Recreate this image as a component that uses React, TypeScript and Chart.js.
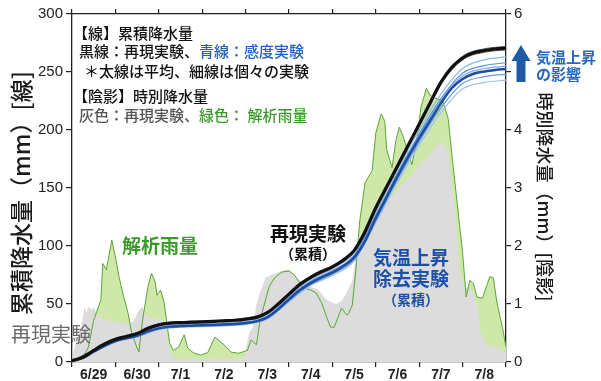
import React, { useEffect, useRef } from 'react';
import { Chart, registerables } from 'chart.js';

Chart.register(...registerables);

// ---------- categories / ticks ----------
const dayLabels = ['6/29', '6/30', '7/1', '7/2', '7/3', '7/4', '7/5', '7/6', '7/7', '7/8'];
const dayTickHours = [0, 12, 24, 36, 48, 60, 72, 84, 96, 108, 120, 132, 144, 156, 168, 180, 192, 204, 216, 228, 240];
const rightTickLabels = ['0', '1', '2', '3', '4', '', '6'];

// ---------- cumulative precipitation (mm), 6-hourly ----------
const cumHours = [0, 6, 12, 18, 24, 30, 36, 42, 48, 54, 60, 66, 72, 78, 84, 90, 96, 102, 108, 114, 120, 126, 132, 138, 144, 150, 156, 162, 168, 174, 180, 186, 192, 198, 204, 210, 216, 222, 228, 234, 240];
const blackMean = [1, 4, 10, 15.5, 19.5, 22, 24.5, 29, 32, 33.5, 34, 34.3, 34.6, 35, 35.5, 36, 37, 38.5, 42.5, 50, 58.5, 67, 73, 78, 82, 88, 96, 112, 133, 151, 169, 187, 205, 223, 241, 254, 262, 266.5, 268.5, 269.8, 270.5];
const blueMean = [1, 3.5, 9, 14, 18, 20.5, 22.5, 26.5, 29, 30.5, 31, 31.3, 31.6, 32, 32.3, 32.8, 33.6, 35, 38.5, 45.5, 54, 62, 68, 73, 77, 82.5, 90, 104, 124, 142, 160, 177, 193, 208, 223, 236, 244, 248.5, 250.5, 251.8, 252.5];

// ---------- individual members, 12-hourly ----------
const memberHours = [0, 12, 24, 36, 48, 60, 72, 84, 96, 108, 120, 132, 144, 156, 168, 180, 192, 204, 216, 228, 240];
const blackMemberF = [1, 10.4, 20.1, 25.2, 32.7, 34.7, 35.3, 36.2, 37.8, 43.3, 59.5, 74, 83, 97, 134.5, 170.5, 206.5, 242.5, 263.5, 270, 272];
const blackMemberG = [1, 9.7, 19, 24, 31.4, 33.4, 34, 34.9, 36.3, 41.7, 57.6, 72, 81, 95, 131.5, 167.5, 203.5, 239.5, 260.5, 267, 269];
const blueMemberA = [1, 9.6, 19, 23.6, 30.2, 32.3, 33, 33.8, 35.2, 40.4, 56.5, 71, 80.5, 94, 129, 166, 200, 231, 253, 260.5, 263];
const blueMemberB = [1, 9.3, 18.6, 23.1, 29.6, 31.7, 32.3, 33, 34.4, 39.5, 55.3, 69.6, 78.8, 92, 126.5, 163, 196.5, 227, 249, 255.5, 258];
const blueMemberC = [1, 9.1, 18.3, 22.8, 29.3, 31.3, 31.9, 32.6, 34, 39, 54.6, 68.8, 77.9, 91, 125, 161.5, 195, 225, 246.5, 253, 255];
const blueMemberD = [1, 8.8, 17.6, 22, 28.5, 30.5, 31, 31.7, 33, 37.7, 53, 67, 75.8, 88.5, 122, 157.5, 190, 219, 240, 246, 248];
const blueMemberE = [1, 8.6, 17.2, 21.6, 28, 30, 30.5, 31.2, 32.4, 37, 52, 66, 74.5, 87, 120, 155, 187, 215, 235.5, 241, 243];

// ---------- hourly precipitation (mm) : analysis rainfall (green) ----------
const greenHours = [0, 6, 9, 12, 16, 17, 19, 22, 24, 26, 28, 31, 33, 36, 37, 39, 42, 44, 46, 47, 48, 49, 51, 53, 54, 56, 59, 62, 64, 67, 71, 75, 79, 84, 88, 92, 97, 99, 102, 104, 106, 109, 112, 116, 120, 123, 126, 128, 132, 135, 138, 141, 143, 145, 148, 149, 152, 153, 155, 157, 159, 162, 163, 166, 168, 171, 173, 174, 177, 179, 181, 183, 186, 188, 191, 193, 196, 198, 201, 205, 208, 210, 213, 216, 218, 220, 222, 224, 227, 231, 233, 235, 238, 240];
const greenValues = [0.05, 0.08, 0.25, 0.72, 1.07, 1.7, 1.59, 2.1, 1.81, 1.47, 1.2, 0.84, 0.5, 0.24, 0.17, 0.72, 1.3, 1.53, 1.38, 1.15, 1.2, 1.24, 1.02, 0.55, 0.33, 0.2, 0.26, 0.47, 0.24, 0.16, 0.12, 0.16, 0.43, 0.3, 0.17, 0.15, 0.2, 0.38, 0.3, 0.72, 0.95, 1.3, 1.45, 1.55, 1.57, 1.5, 1.36, 1.28, 1.24, 1.19, 1.02, 0.76, 0.6, 0.6, 0.84, 0.93, 0.81, 0.84, 0.98, 1.59, 2.4, 3.08, 3.14, 3.3, 3.95, 4.28, 4.15, 3.66, 3.35, 3.8, 4.05, 3.9, 3.6, 3.4, 3.9, 4.4, 4.72, 4.6, 4.55, 4.5, 4.2, 3.6, 2.74, 1.88, 1.12, 1.41, 1.35, 1.12, 1.1, 1.47, 1.45, 1.02, 0.6, 0.26];

// ---------- hourly precipitation (mm) : reproduction experiment (gray) ----------
const grayHours = [0, 1, 3, 5, 7, 8, 9, 11, 12, 14, 17, 21, 26, 30, 34, 37, 39, 41, 45, 49, 52, 54, 57, 95, 98, 100, 102, 104, 107, 110, 114, 120, 124, 128, 132, 136, 140, 142, 146, 149, 152, 155, 156, 158, 160, 163, 167, 173, 178, 184, 190, 195, 201, 205, 208, 212, 214, 217, 221, 224, 226, 229, 234, 240];
const grayValues = [0.05, 0.2, 0.4, 0.6, 0.95, 0.85, 0.95, 0.9, 0.95, 0.8, 0.75, 0.7, 0.7, 0.65, 0.7, 0.9, 0.95, 0.8, 0.75, 0.75, 0.6, 0.2, 0.05, 0.05, 0.5, 0.6, 1.0, 1.2, 1.45, 1.5, 1.55, 1.6, 1.45, 1.35, 1.3, 1.25, 1.1, 1.05, 1.0, 1.05, 1.2, 1.4, 1.6, 2.0, 2.2, 2.3, 2.5, 2.7, 2.9, 3.1, 3.3, 3.5, 3.7, 3.8, 3.6, 2.6, 1.6, 1.3, 1.25, 1.0, 0.5, 0.3, 0.25, 0.15];

const JP = "'Noto Sans CJK JP', 'Noto Sans', sans-serif";
const NUM = "'Liberation Sans', Arial, sans-serif";

function zip(xs: number[], ys: number[]) {
  return xs.map((x, i) => ({ x, y: ys[i] }));
}

function drawParts(ctx: CanvasRenderingContext2D, parts: [string, string][], x: number, y: number) {
  let cx = x;
  for (const [t, c] of parts) {
    ctx.fillStyle = c;
    ctx.fillText(t, cx, y);
    cx += ctx.measureText(t).width;
  }
}

const annotationPlugin = {
  id: 'annotations',
  afterDraw(chart: any) {
    const ctx: CanvasRenderingContext2D = chart.ctx;
    ctx.save();
    ctx.textBaseline = 'middle';
    ctx.textAlign = 'left';

    // legend block
    ctx.font = `500 15px ${JP}`;
    drawParts(ctx, [['【線】累積降水量', '#111']], 73, 33);
    drawParts(ctx, [['黒線：再現実験、', '#111'], ['青線：感度実験', '#2160c4']], 79, 51.5);
    drawParts(ctx, [['＊太線は平均、細線は個々の実験', '#111']], 84, 71);
    drawParts(ctx, [['【陰影】時別降水量', '#111']], 73, 96.5);
    drawParts(ctx, [['灰色：再現実験、', '#555'], ['緑色： 解析雨量', '#3a9a2a']], 79, 115);

    ctx.textAlign = 'center';
    ctx.font = `bold 19px ${JP}`;
    ctx.fillStyle = '#3a9a2a';
    ctx.fillText('解析雨量', 160, 246);

    ctx.font = `400 20px ${JP}`;
    ctx.fillStyle = '#6a6a6a';
    ctx.fillText('再現実験', 51, 334);

    ctx.font = `bold 19px ${JP}`;
    ctx.fillStyle = '#111';
    ctx.fillText('再現実験', 308, 234);
    ctx.font = `bold 14px ${JP}`;
    ctx.fillText('（累積）', 308, 253.5);

    ctx.fillStyle = '#1c4fa8';
    ctx.font = `bold 19px ${JP}`;
    ctx.fillText('気温上昇', 411, 258);
    ctx.fillText('除去実験', 411, 279);
    ctx.font = `bold 14px ${JP}`;
    ctx.fillText('（累積）', 411, 300);

    // arrow + label on right
    ctx.fillStyle = '#1f5aa6';
    ctx.beginPath();
    ctx.moveTo(521, 45);
    ctx.lineTo(530.5, 61);
    ctx.lineTo(511.5, 61);
    ctx.closePath();
    ctx.fill();
    ctx.fillRect(516.5, 60, 9, 22);

    ctx.textAlign = 'left';
    ctx.fillStyle = '#2466c0';
    ctx.font = `bold 15px ${JP}`;
    ctx.fillText('気温上昇', 536, 57.5);
    ctx.fillText('の影響', 536, 74.5);

    // axis titles
    ctx.fillStyle = '#1a1a1a';
    ctx.textAlign = 'center';
    ctx.save();
    ctx.translate(21, 193);
    ctx.rotate(-Math.PI / 2);
    ctx.font = `500 23px ${JP}`;
    ctx.fillText('累積降水量（mm）[線]', 0, 0);
    ctx.restore();

    ctx.save();
    ctx.translate(545, 197);
    ctx.rotate(Math.PI / 2);
    ctx.font = `500 18px ${JP}`;
    ctx.fillText('時別降水量（mm）[陰影]', 0, 0);
    ctx.restore();

    ctx.restore();
  },
};

const dayTickColor = (c: any) => (c.tick && c.tick.value % 24 === 0 ? '#222' : 'rgba(0,0,0,0)');

export default function App() {
  const ref = useRef<HTMLCanvasElement>(null);

  useEffect(() => {
    const line = (data: any[], color: string, width: number, order: number) => ({
      data,
      borderColor: color,
      borderWidth: width,
      pointRadius: 0,
      fill: false,
      cubicInterpolationMode: 'monotone' as const,
      xAxisID: 'x',
      yAxisID: 'y',
      order,
    });

    const chart = new Chart(ref.current as HTMLCanvasElement, {
      type: 'line',
      data: {
        datasets: [
          line(zip(cumHours, blackMean), '#111111', 3.2, 0),
          line(zip(memberHours, blackMemberF), '#555555', 1, 1),
          line(zip(memberHours, blackMemberG), '#555555', 1, 1),
          line(zip(cumHours, blueMean), '#1b4ea3', 2.5, 2),
          line(zip(memberHours, blueMemberA), '#8fb6ec', 1.2, 3),
          line(zip(memberHours, blueMemberB), '#5f8fd8', 1.2, 3),
          line(zip(memberHours, blueMemberC), '#7ea8e6', 1.2, 3),
          line(zip(memberHours, blueMemberD), '#6b97dc', 1.2, 3),
          line(zip(memberHours, blueMemberE), '#9cc0f0', 1.2, 3),
          {
            data: zip(greenHours, greenValues),
            borderColor: '#58a632',
            borderWidth: 1,
            pointRadius: 0,
            fill: false,
            tension: 0,
            xAxisID: 'x',
            yAxisID: 'y1',
            order: 5,
          },
          {
            data: zip(grayHours, grayValues),
            borderWidth: 0,
            borderColor: 'rgba(0,0,0,0)',
            backgroundColor: '#dcdcdc',
            pointRadius: 0,
            fill: 'origin',
            tension: 0,
            xAxisID: 'x',
            yAxisID: 'y1',
            order: 6,
          },
          {
            data: zip(greenHours, greenValues),
            borderWidth: 0,
            borderColor: 'rgba(0,0,0,0)',
            backgroundColor: '#cfe8aa',
            pointRadius: 0,
            fill: 'origin',
            tension: 0,
            xAxisID: 'x',
            yAxisID: 'y1',
            order: 7,
          },
        ] as any,
      },
      options: {
        responsive: false,
        animation: false,
        events: [],
        layout: { padding: 0 },
        plugins: { legend: { display: false }, tooltip: { enabled: false } },
        scales: {
          x: {
            type: 'linear',
            position: 'bottom',
            min: 0,
            max: 240,
            afterBuildTicks: (s: any) => {
              s.ticks = dayTickHours.map((v) => ({ value: v }));
            },
            afterFit: (s: any) => {
              s.height = 19;
            },
            ticks: {
              autoSkip: false,
              maxRotation: 0,
              minRotation: 0,
              padding: 0,
              color: '#222',
              font: { family: NUM, size: 14, weight: 'bold' },
              callback: (v: any) => (v % 24 === 12 ? dayLabels[(v - 12) / 24] : ''),
            },
            grid: { drawOnChartArea: false, drawTicks: true, tickLength: 5, color: dayTickColor, lineWidth: 1.2 },
            border: { display: true, color: '#222', width: 1.3 },
          },
          x2: {
            type: 'linear',
            position: 'top',
            min: 0,
            max: 240,
            afterBuildTicks: (s: any) => {
              s.ticks = dayTickHours.map((v) => ({ value: v }));
            },
            afterFit: (s: any) => {
              s.height = 14;
            },
            ticks: { display: false },
            grid: { drawOnChartArea: false, drawTicks: true, tickLength: 5, color: dayTickColor, lineWidth: 1.2 },
            border: { display: true, color: '#222', width: 1.3 },
          },
          y: {
            type: 'linear',
            position: 'left',
            min: 0,
            max: 300,
            afterFit: (s: any) => {
              s.width = 72;
            },
            ticks: { stepSize: 50, color: '#222', padding: 3, font: { family: NUM, size: 15 } },
            grid: { drawOnChartArea: false, tickLength: 6, color: '#222', lineWidth: 1.2 },
            border: { display: true, color: '#222', width: 1.3 },
          },
          y1: {
            type: 'linear',
            position: 'right',
            min: 0,
            max: 6,
            afterFit: (s: any) => {
              s.width = 95;
            },
            ticks: {
              stepSize: 1,
              color: '#222',
              padding: 3,
              font: { family: NUM, size: 15 },
              callback: (v: any) => rightTickLabels[v] ?? '',
            },
            grid: { drawOnChartArea: false, tickLength: 5, color: '#222', lineWidth: 1.2 },
            border: { display: true, color: '#222', width: 1.3 },
          },
        },
      } as any,
      plugins: [annotationPlugin],
    });
    return () => chart.destroy();
  }, []);

  return (
    <div style={{ position: 'fixed', left: 0, top: 0, width: 601, height: 381, background: '#fff' }}>
      <canvas ref={ref} width={601} height={381} style={{ width: 601, height: 381, display: 'block' }} />
    </div>
  );
}
